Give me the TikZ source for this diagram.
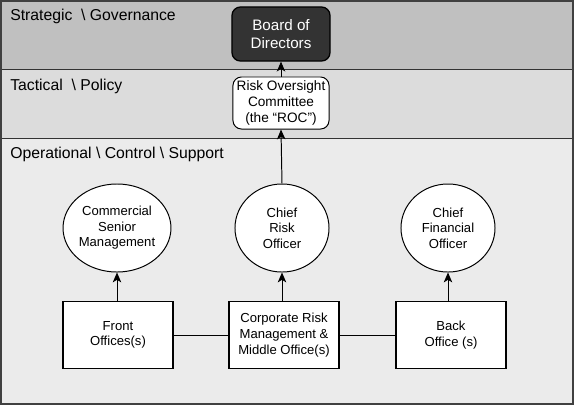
\documentclass[tikz,border=0pt]{standalone}
\usepackage{fontspec}
\setmainfont{Liberation Sans}
\usetikzlibrary{arrows.meta,shapes.geometric}
\definecolor{strategicgray}{HTML}{C0C0C0}
\definecolor{tacticalgray}{HTML}{DCDCDC}
\definecolor{operationalgray}{HTML}{EBEBEB}
\definecolor{boardfill}{HTML}{333333}
\begin{document}
\begin{tikzpicture}[x=0.025cm,y=-0.025cm,
  bandlabel/.style={anchor=base west,inner sep=0pt,font=\fontsize{11.2}{13}\selectfont},
  boardbox/.style={draw=black,line width=0.9pt,fill=boardfill,rounded corners=6pt,text=white,
    minimum width=2.45cm,minimum height=1.35cm,align=center,font=\fontsize{10.8}{12.3}\selectfont},
  rocbox/.style={draw=black,line width=0.7pt,fill=white,rounded corners=6pt,
    minimum width=2.4cm,minimum height=1.3cm,align=center,inner sep=1pt,font=\fontsize{9.7}{11.1}\selectfont},
  officer/.style={ellipse,draw=black,line width=0.7pt,fill=white,minimum width=2.35cm,minimum height=2.2cm,
    inner sep=0pt,align=center,font=\fontsize{9.3}{11.1}\selectfont},
  office/.style={draw=black,line width=0.8pt,fill=white,minimum width=2.75cm,minimum height=1.675cm,
    align=center,font=\fontsize{9.3}{11.1}\selectfont},
  uparrow/.style={line width=0.7pt,-{Stealth[length=7pt,width=6pt,inset=1.8pt]}},
  link/.style={line width=0.7pt}]
\useasboundingbox (0,0) rectangle (580,410);

% Bands
\fill[strategicgray] (1,1) rectangle (573,69);
\fill[tacticalgray] (1,69) rectangle (573,138);
\fill[operationalgray] (1,138) rectangle (573,404);
\draw[line width=0.7pt,black!80] (1,69) -- (573,69);
\draw[line width=0.7pt,black!80] (1,138) -- (573,138);
\draw[line width=1pt,black!75] (1,1) rectangle (573,404);

% Band labels
\node[bandlabel] (strategic) at (10,20.7) {Strategic \ \textbackslash\ Governance};
\node[bandlabel] (tactical) at (10,90) {Tactical \ \textbackslash\ Policy};
\node[bandlabel] (operational) at (10,158) {Operational \textbackslash\ Control \textbackslash\ Support};

% Board and committee
\node[boardbox] (board) at (281,34) {Board of\\Directors};
\node[rocbox] (roc) at (281,103) {Risk Oversight\\Committee\\(the ``ROC'')};

% Officers
\node[officer] (csm) at (117,228) {Commercial\\Senior\\Management};
\node[officer] (cro) at (282,228) {Chief\\Risk\\Officer};
\node[officer] (cfo) at (448,228) {Chief\\Financial\\Officer};

% Offices
\node[office] (front) at (118,335) {Front\\Offices(s)};
\node[office] (corporate) at (284,335) {Corporate Risk\\Management \&\\Middle Office(s)};
\node[office] (back) at (451,335) {Back\\Office (s)};

% Reporting lines
\draw[uparrow] (roc) -- (board);
\draw[uparrow] (cro.north) -- (roc.south);
\draw[uparrow] (front.north -| csm) -- (csm.south);
\draw[uparrow] (corporate.north -| cro) -- (cro.south);
\draw[uparrow] (back.north -| cfo) -- (cfo.south);
\draw[link] (front) -- (corporate);
\draw[link] (corporate) -- (back);
\end{tikzpicture}
\end{document}
